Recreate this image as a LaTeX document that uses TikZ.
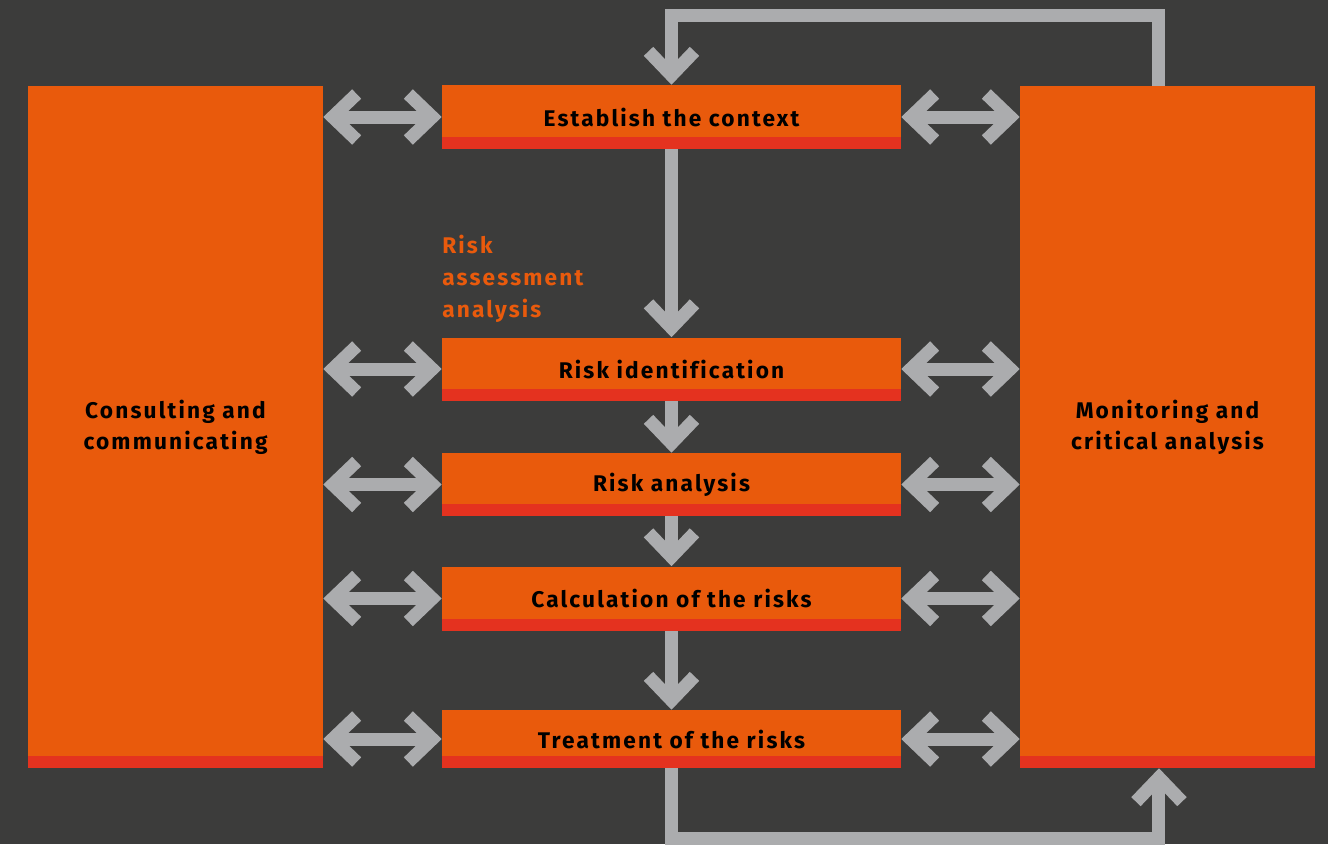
\documentclass[tikz,border=0pt]{standalone}
\usepackage{fontspec}
\setmainfont{Fira Sans}[LetterSpace=9.5, Ligatures=CommonOff]
\usetikzlibrary{arrows.meta}
\definecolor{bgDark}{HTML}{3C3C3B}
\definecolor{boxOrange}{HTML}{E95A0C}
\definecolor{stripRed}{HTML}{E4321F}
\definecolor{arrowGray}{HTML}{ABACAE}

\begin{document}
\begin{tikzpicture}[
    x=0.75pt, y=-0.75pt,
    % orange blocks with the red strip along their bottom edge
    redStrip/.style={path picture={\fill[stripRed] (path picture bounding box.south west) rectangle ([yshift=9pt]path picture bounding box.south east);}},
    sideBox/.style={rectangle, fill=boxOrange, redStrip, inner sep=0pt, align=center, minimum width=221.25pt, minimum height=511.5pt, font=\bfseries\fontsize{17}{23.25}\selectfont},
    stepBox/.style={rectangle, fill=boxOrange, redStrip, inner sep=0pt, align=center, minimum width=344.25pt, font=\bfseries\fontsize{17}{20}\selectfont},
    labelText/.style={inner sep=0pt, align=left, text=boxOrange, font=\bfseries\fontsize{17}{24}\selectfont},
    chevron/.tip={Straight Barb[sharp, length=18pt, width=34.5pt]},
    flowArrow/.style={-chevron, draw=arrowGray, line width=9.75pt, line join=miter},
    linkArrow/.style={chevron-chevron, draw=arrowGray, line width=9.75pt}
]
    \useasboundingbox (0,0) rectangle (1328,844);
    \fill[bgDark] (0,0) rectangle (1328,844);

    \node[sideBox] (cons) at (175.5,427) {Consulting and\\communicating};
    \node[sideBox] (mon) at (1167.5,427) {Monitoring and\\critical analysis};

    \node[stepBox, minimum height=48pt] (ctx) at (671.5,117) {Establish the context};
    \node[stepBox, minimum height=47.25pt] (ident) at (671.5,369) {Risk identification};
    \node[stepBox, minimum height=47.25pt] (anal) at (671.5,484.5) {Risk analysis};
    \node[stepBox, minimum height=48pt] (calc) at (671.5,598.5) {Calculation of the risks};
    \node[stepBox, minimum height=43.5pt] (treat) at (671.5,739) {Treatment of the risks};

    \node[labelText, anchor=north west] (phase) at (442,235) {Risk\\assessment\\analysis};

    % main flow
    \draw[flowArrow] (ctx) -- (ident);
    \draw[flowArrow] (ident) -- (anal);
    \draw[flowArrow] (anal) -- (calc);
    \draw[flowArrow] (calc) -- (treat);

    % links to both side blocks
    \foreach \s in {ctx,ident,anal,calc,treat} {
        \draw[linkArrow] (\s.west -| cons.east) -- (\s.west);
        \draw[linkArrow] (\s.east) -- (\s.east -| mon.west);
    }

    % feedback loops
    \coordinate (topRail) at (0,15);
    \coordinate (bottomRail) at (0,838);
    \draw[flowArrow] ([xshift=-6.4pt]mon.north) |- (topRail -| ctx.north) -- (ctx.north);
    \draw[flowArrow] (treat.south) -- (treat.south |- bottomRail) -| ([xshift=-6.4pt]mon.south);
\end{tikzpicture}
\end{document}
